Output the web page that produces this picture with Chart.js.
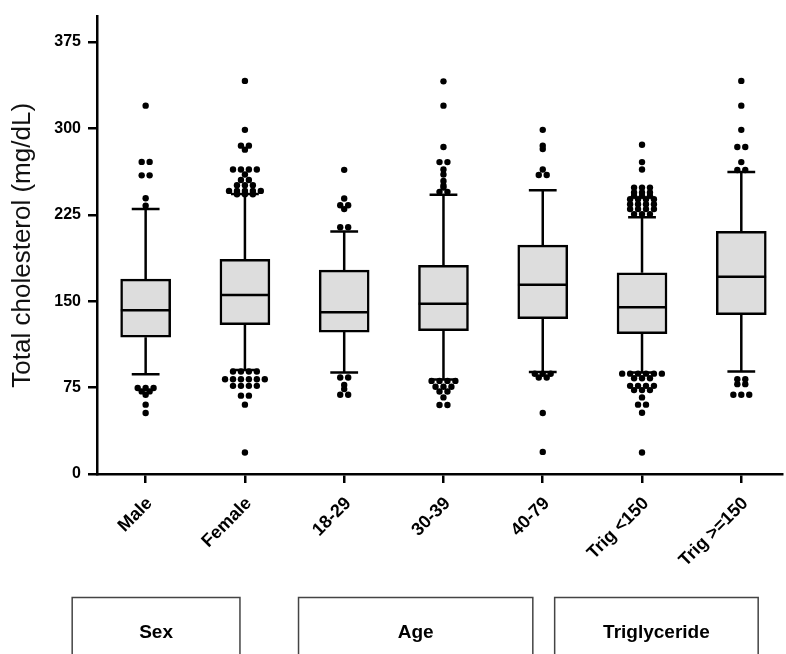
<!DOCTYPE html>
<html>
<head>
<meta charset="utf-8">
<script src="https://cdn.jsdelivr.net/npm/chart.js@4.4.1/dist/chart.umd.min.js"></script>
<style>
  html, body { margin: 0; padding: 0; background: #fff; overflow: hidden; }
</style>
</head>
<body>
<canvas id="cholChart" width="786" height="654"></canvas>
<script>
const categories = ["Male", "Female", "18-29", "30-39", "40-79", "Trig <150", "Trig >=150"];
const groupNames = ["Sex", "Age", "Triglyceride"];
const yTicks = [0, 75, 150, 225, 300, 375];

// box plot summary values (mg/dL)
const whiskerLow = [86.6, 90.3, 88.0, 82.0, 88.6, 88.0, 88.9];
const q1 = [118.7, 129.6, 123.2, 124.4, 134.8, 121.9, 138.2];
const median = [142.2, 155.4, 140.4, 147.7, 164.3, 144.8, 171.2];
const q3 = [169.2, 186.4, 176.9, 181.2, 198.7, 174.6, 210.7];
const whiskerHigh = [229.9, 243.0, 210.5, 242.3, 246.3, 222.8, 262.1];

// outliers per category
const outliersMale = [319.7, 270.9, 270.9, 259.2, 259.2, 239.4, 232.8,
  74.6, 74.6, 74.6, 71.7, 71.7, 68.8, 60.2, 53.0];
const outliersFemale = [341.2, 298.7, 285.0, 285.0, 281.5, 264.3, 264.3, 264.3, 264.3, 260.0,
  255.2, 255.2, 250.6, 250.6, 250.6, 245.7, 245.7, 245.7, 245.7, 245.7, 242.8, 242.8, 242.8,
  89.0, 89.0, 89.0, 89.0, 82.3, 82.3, 82.3, 82.3, 82.3, 82.3, 76.5, 76.5, 76.5, 76.5,
  68.0, 68.0, 60.2, 18.7];
const outliers18to29 = [264.0, 239.1, 233.3, 233.3, 229.9, 214.2, 214.2,
  83.7, 83.7, 77.2, 73.7, 68.8, 68.8];
const outliers30to39 = [340.8, 319.7, 283.8, 270.7, 270.7, 264.3, 260.0, 254.3, 250.5, 248.6, 244.9, 244.9,
  80.8, 80.8, 80.8, 80.8, 75.7, 75.7, 75.7, 71.6, 71.6, 66.5, 59.9, 59.9];
const outliers40to79 = [298.7, 285.0, 282.0, 264.3, 259.5, 259.5,
  87.0, 87.0, 87.0, 83.7, 83.7, 53.0, 19.2];
const outliersTrigLow = [285.8, 270.7, 264.3, 248.6, 248.6, 248.6, 244.3, 244.3, 244.3,
  241.4, 241.4, 241.4, 238.5, 238.5, 238.5, 238.5, 234.2, 234.2, 234.2, 234.2,
  229.9, 229.9, 229.9, 229.9, 225.6, 225.6, 225.6,
  87.1, 87.1, 87.1, 87.1, 87.1, 87.1, 83.1, 83.1, 83.1, 76.5, 76.5, 76.5, 76.5,
  72.8, 72.8, 72.8, 66.5, 60.2, 60.2, 53.1, 18.7];
const outliersTrigHigh = [341.2, 319.7, 298.7, 283.8, 283.8, 270.7, 263.8, 263.8,
  82.3, 82.3, 78.0, 78.0, 68.8, 68.8, 68.8];

const outliers = [outliersMale, outliersFemale, outliers18to29, outliers30to39,
  outliers40to79, outliersTrigLow, outliersTrigHigh];

const fontFamily = "'Liberation Sans', Arial, sans-serif";
const capHalf = 0.14;
const boxHalf = 0.25;
const dotGap = 0.08;

// whisker lines and caps, broken with null points
const whiskerPoints = [];
categories.forEach((c, i) => {
  whiskerPoints.push({ x: i, y: whiskerLow[i] }, { x: i, y: q1[i] }, { x: i, y: null });
  whiskerPoints.push({ x: i, y: q3[i] }, { x: i, y: whiskerHigh[i] }, { x: i, y: null });
  whiskerPoints.push({ x: i - capHalf, y: whiskerLow[i] }, { x: i + capHalf, y: whiskerLow[i] }, { x: i, y: null });
  whiskerPoints.push({ x: i - capHalf, y: whiskerHigh[i] }, { x: i + capHalf, y: whiskerHigh[i] }, { x: i, y: null });
});

const medianPoints = [];
categories.forEach((c, i) => {
  medianPoints.push({ x: i - boxHalf, y: median[i] }, { x: i + boxHalf, y: median[i] }, { x: i, y: null });
});

const boxPoints = categories.map((c, i) => ({ x: i, y: [q1[i], q3[i]] }));

// spread equal values side by side
const outlierPoints = [];
outliers.forEach((list, i) => {
  const rows = {};
  list.forEach(v => { rows[v] = (rows[v] || 0) + 1; });
  Object.keys(rows).forEach(k => {
    const n = rows[k];
    for (let j = 0; j < n; j++) {
      outlierPoints.push({ x: i + (j - (n - 1) / 2) * dotGap, y: Number(k) });
    }
  });
});

const groupBoxes = {
  id: "groupBoxes",
  afterDraw(chart) {
    const ctx = chart.ctx;
    const xs = chart.scales.x;
    const spans = [[-0.74, 0.95], [1.54, 3.9], [4.12, 6.17]];
    ctx.save();
    ctx.strokeStyle = "#444";
    ctx.lineWidth = 1.5;
    ctx.fillStyle = "#000";
    ctx.font = "bold 19px " + fontFamily;
    ctx.textAlign = "center";
    ctx.textBaseline = "middle";
    groupNames.forEach((name, k) => {
      const left = xs.getPixelForValue(spans[k][0]);
      const right = xs.getPixelForValue(spans[k][1]);
      ctx.strokeRect(left, 597.5, right - left, 80);
      ctx.fillText(name, (left + right) / 2, 633);
    });
    ctx.restore();
  }
};

new Chart(document.getElementById("cholChart"), {
  type: "scatter",
  data: {
    datasets: [
      {
        type: "line",
        data: whiskerPoints,
        borderColor: "#000",
        borderWidth: 2.5,
        pointRadius: 0,
        spanGaps: false,
        order: 3
      },
      {
        type: "bar",
        data: boxPoints,
        backgroundColor: "#dddddd",
        borderColor: "#000",
        borderWidth: 2.5,
        borderSkipped: false,
        barThickness: 50,
        order: 2
      },
      {
        type: "line",
        data: medianPoints,
        borderColor: "#000",
        borderWidth: 2.5,
        pointRadius: 0,
        spanGaps: false,
        order: 1
      },
      {
        type: "scatter",
        data: outlierPoints,
        backgroundColor: "#000",
        borderWidth: 0,
        pointRadius: 3.2,
        order: 0
      }
    ]
  },
  options: {
    responsive: false,
    animation: false,
    layout: { padding: { top: 12, left: 0, right: 0, bottom: 0 } },
    plugins: { legend: { display: false }, tooltip: { enabled: false } },
    scales: {
      x: {
        type: "linear",
        offset: false,
        min: -0.49,
        max: 6.41,
        afterBuildTicks: (s) => { s.ticks = categories.map((c, i) => ({ value: i })); },
        afterFit: (s) => { s.height = 180; s.paddingLeft = 0; s.paddingRight = 0; },
        border: { display: true, color: "#000", width: 2.5 },
        grid: { offset: false, drawOnChartArea: false, drawTicks: true, tickLength: 9, color: "#000", lineWidth: 2.5 },
        ticks: {
          autoSkip: false,
          minRotation: 45,
          maxRotation: 45,
          padding: 10,
          labelOffset: 4,
          color: "#000",
          font: { family: fontFamily, size: 18, weight: "bold" },
          callback: (v) => categories[v]
        }
      },
      y: {
        min: 0,
        max: 397,
        afterBuildTicks: (s) => { s.ticks = yTicks.map(v => ({ value: v })); },
        afterFit: (s) => { s.width = 97; },
        border: { display: true, color: "#000", width: 2.5 },
        grid: { drawOnChartArea: false, drawTicks: true, tickLength: 9, color: "#000", lineWidth: 2.5 },
        ticks: {
          padding: 7,
          color: "#000",
          font: { family: fontFamily, size: 16, weight: "bold" }
        },
        title: {
          display: true,
          text: "Total cholesterol (mg/dL)",
          color: "#111",
          font: { family: fontFamily, size: 26 },
          padding: { top: 7, bottom: 0 }
        }
      }
    }
  },
  plugins: [groupBoxes]
});
</script>
</body>
</html>
